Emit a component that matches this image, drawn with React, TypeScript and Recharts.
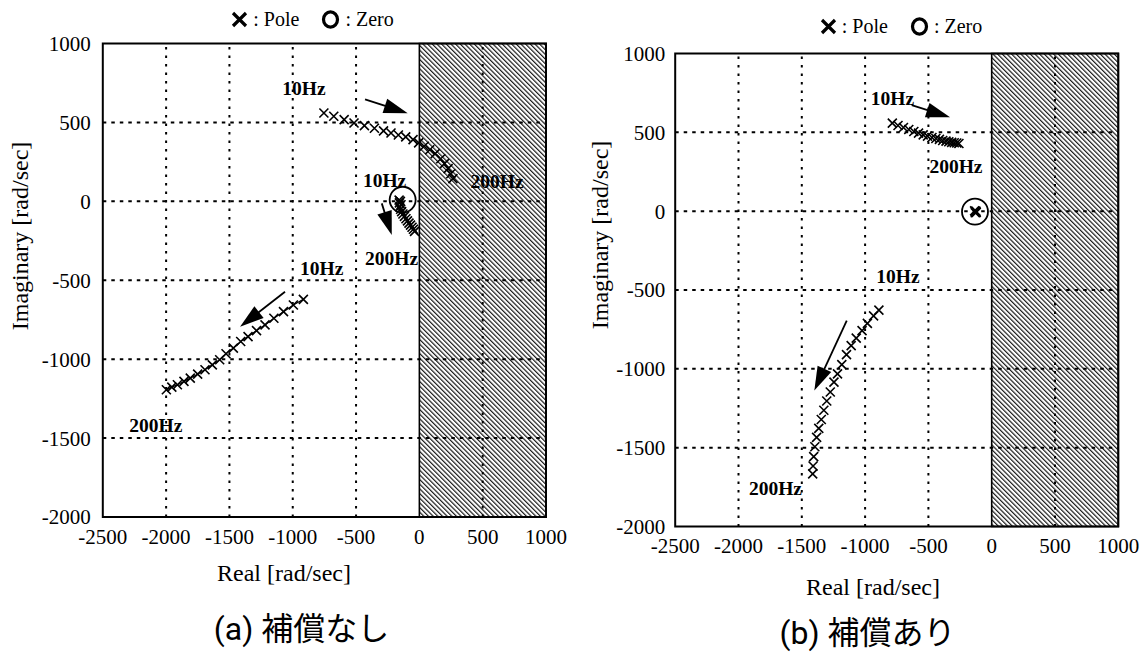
import React from 'react';
import {
  ScatterChart,
  Scatter,
  XAxis,
  YAxis,
  ReferenceArea,
  ReferenceLine,
  Legend,
  Label,
} from 'recharts';

// Axis ticks and grid positions (rad/sec)
const realTicks = [-2500, -2000, -1500, -1000, -500, 0, 500, 1000];
const imagTicks = [-2000, -1500, -1000, -500, 0, 500, 1000];
const realGrid = [-2000, -1500, -1000, -500, 500];
const imagGrid = [-1500, -1000, -500, 0, 500];

// (a) 補償なし — pole loci, 10 Hz -> 200 Hz
const polesUpperA = [
  { re: -754, im: 560 }, { re: -676, im: 539 }, { re: -594, im: 518 }, { re: -516, im: 496 },
  { re: -434, im: 480 }, { re: -355, im: 463 }, { re: -283, im: 446 }, { re: -224, im: 433 },
  { re: -166, im: 420 }, { re: -108, im: 408 }, { re: -50, im: 391 }, { re: -6, im: 370 },
  { re: 38, im: 349 }, { re: 82, im: 327 }, { re: 125, im: 302 }, { re: 169, im: 270 },
  { re: 198, im: 239 }, { re: 227, im: 207 }, { re: 248, im: 175 }, { re: 265, im: 144 },
];
const polesMidA = [
  { re: -160, im: 8 }, { re: -150, im: 0 }, { re: -158, im: -10 }, { re: -145, im: -22 },
  { re: -155, im: -35 }, { re: -148, im: -50 }, { re: -140, im: -65 }, { re: -130, im: -80 },
  { re: -118, im: -95 }, { re: -106, im: -110 }, { re: -94, im: -124 }, { re: -82, im: -138 },
  { re: -70, im: -151 }, { re: -58, im: -164 }, { re: -47, im: -177 }, { re: -38, im: -190 },
];
const polesLowerA = [
  { re: -916, im: -621 }, { re: -995, im: -657 }, { re: -1073, im: -699 }, { re: -1149, im: -741 },
  { re: -1219, im: -783 }, { re: -1286, im: -819 }, { re: -1353, im: -857 }, { re: -1411, im: -888 },
  { re: -1469, im: -930 }, { re: -1527, im: -966 }, { re: -1577, im: -1004 }, { re: -1635, im: -1036 },
  { re: -1693, im: -1067 }, { re: -1751, im: -1095 }, { re: -1809, im: -1120 }, { re: -1859, im: -1141 },
  { re: -1911, im: -1162 }, { re: -1955, im: -1177 }, { re: -1998, im: -1194 },
];
const zerosA = [{ re: -132, im: 10 }];
const freqLabelsA = [
  { re: -911, im: 712, text: '10Hz' },
  { re: 614, im: 125, text: '200Hz' },
  { re: -275, im: 135, text: '10Hz' },
  { re: -220, im: -361, text: '200Hz' },
  { re: -771, im: -425, text: '10Hz' },
  { re: -2081, im: -1418, text: '200Hz' },
];
const arrowsA = [
  [{ x: -429, y: 646 }, { x: -92, y: 558 }],
  [{ x: -297, y: -13 }, { x: -218, y: -214 }],
  [{ x: -1061, y: -573 }, { x: -1416, y: -795 }],
];

// (b) 補償あり — pole loci, 10 Hz -> 200 Hz
const polesUpperB = [
  { re: -785, im: 558 }, { re: -740, im: 543 }, { re: -697, im: 531 }, { re: -655, im: 518 },
  { re: -615, im: 505 }, { re: -578, im: 495 }, { re: -541, im: 484 }, { re: -507, im: 476 },
  { re: -472, im: 467 }, { re: -441, im: 461 }, { re: -413, im: 455 }, { re: -387, im: 448 },
  { re: -361, im: 444 }, { re: -339, im: 440 }, { re: -316, im: 436 }, { re: -296, im: 434 },
  { re: -276, im: 432 }, { re: -259, im: 429 },
];
const polesMidB = [
  { re: -135, im: 2 }, { re: -128, im: -4 }, { re: -122, im: -8 }, { re: -130, im: -10 }, { re: -125, im: 0 },
];
const polesLowerB = [
  { re: -891, im: -628 }, { re: -933, im: -664 }, { re: -982, im: -712 }, { re: -1024, im: -758 },
  { re: -1070, im: -805 }, { re: -1110, im: -853 }, { re: -1147, im: -910 }, { re: -1184, im: -973 },
  { re: -1218, im: -1032 }, { re: -1246, im: -1084 }, { re: -1275, im: -1147 }, { re: -1303, im: -1204 },
  { re: -1326, im: -1263 }, { re: -1346, im: -1321 }, { re: -1366, im: -1378 }, { re: -1383, im: -1435 },
  { re: -1397, im: -1494 }, { re: -1406, im: -1557 }, { re: -1411, im: -1616 }, { re: -1414, im: -1666 },
];
const zerosB = [{ re: -132, im: -3 }];
const freqLabelsB = [
  { re: -784, im: 716, text: '10Hz' },
  { re: -282, im: 282, text: '200Hz' },
  { re: -740, im: -415, text: '10Hz' },
  { re: -1708, im: -1757, text: '200Hz' },
];
const arrowsB = [
  [{ x: -632, y: 673 }, { x: -329, y: 595 }],
  [{ x: -1145, y: -694 }, { x: -1401, y: -1138 }],
];

const SERIF = '"Liberation Serif", "Times New Roman", serif';
const SANS = 'Roboto, "Noto Sans CJK JP", sans-serif';

const PoleMark = (props: any) => {
  const { cx, cy } = props;
  const s = 4.5;
  return (
    <path
      d={`M${cx - s},${cy - s}L${cx + s},${cy + s}M${cx - s},${cy + s}L${cx + s},${cy - s}`}
      stroke="#000"
      strokeWidth={1.6}
      fill="none"
    />
  );
};

const ZeroMark = (props: any) => (
  <circle cx={props.cx} cy={props.cy} r={13} stroke="#000" strokeWidth={1.8} fill="none" />
);

const FreqText = (props: any) => (
  <text
    x={props.cx}
    y={props.cy}
    textAnchor="middle"
    dominantBaseline="central"
    fontFamily={SERIF}
    fontWeight="bold"
    fontSize={19.5}
    fill="#000"
  >
    {props.payload.text}
  </text>
);

const ArrowShape = (props: any) => {
  const { x1, y1, x2, y2 } = props;
  const dx = x2 - x1;
  const dy = y2 - y1;
  const len = Math.hypot(dx, dy) || 1;
  const ux = dx / len;
  const uy = dy / len;
  const hl = 24;
  const hw = 7.5;
  const bx = x2 - ux * hl;
  const by = y2 - uy * hl;
  return (
    <g>
      <line x1={x1} y1={y1} x2={bx + ux * 2} y2={by + uy * 2} stroke="#000" strokeWidth={1.8} />
      <polygon
        points={`${x2},${y2} ${bx - uy * hw},${by + ux * hw} ${bx + uy * hw},${by - ux * hw}`}
        fill="#000"
      />
    </g>
  );
};

const PoleZeroLegend = () => (
  <div
    style={{
      display: 'flex',
      justifyContent: 'center',
      alignItems: 'center',
      fontFamily: SERIF,
      fontSize: 20,
      color: '#000',
      whiteSpace: 'pre',
    }}
  >
    <svg width={17} height={17} style={{ display: 'block' }}>
      <path d="M2,2L15,15M2,15L15,2" stroke="#000" strokeWidth={3.2} />
    </svg>
    <span> : Pole</span>
    <span style={{ display: 'inline-block', width: 22 }} />
    <svg width={19} height={19} style={{ display: 'block' }}>
      <ellipse cx={9.5} cy={9.5} rx={7} ry={7.6} stroke="#000" strokeWidth={3.2} fill="none" />
    </svg>
    <span> : Zero</span>
  </div>
);

type Pt = { re: number; im: number };
type PanelProps = {
  id: string;
  plotLeft: number;
  plotRight: number;
  plotTop: number;
  plotBottom: number;
  tickGapY: number;
  tickGapX: number;
  xTitle: [number, number];
  yTitle: [number, number];
  legendShift: number;
  legendTop: number;
  upper: Pt[];
  mid: Pt[];
  lower: Pt[];
  zeros: Pt[];
  labels: (Pt & { text: string })[];
  arrows: { x: number; y: number }[][];
  lowerJoined: boolean;
};

const PANEL_W = 574;
const PANEL_H = 655;
const X_AXIS_H = 60;

const Panel = (p: PanelProps) => {
  const hatchId = `hatch-${p.id}`;
  return (
    <ScatterChart
      width={PANEL_W}
      height={PANEL_H}
      margin={{
        top: p.plotTop,
        right: PANEL_W - p.plotRight,
        bottom: PANEL_H - p.plotBottom - X_AXIS_H,
        left: 0,
      }}
    >
      <defs>
        <pattern
          id={hatchId}
          patternUnits="userSpaceOnUse"
          width={3.3}
          height={3.3}
          patternTransform="rotate(-45)"
        >
          <rect width={3.3} height={3.3} fill="#fff" />
          <line x1={0.6} y1={0} x2={0.6} y2={3.3} stroke="#1a1a1a" strokeWidth={1.2} />
        </pattern>
      </defs>
      <XAxis
        type="number"
        dataKey="re"
        domain={[-2500, 1000]}
        ticks={realTicks}
        allowDataOverflow
        height={X_AXIS_H}
        axisLine={false}
        tickLine={false}
        tickSize={0}
        tickMargin={p.tickGapX}
        tick={{ fontFamily: SERIF, fontSize: 21, fill: '#000' }}
      >
        <Label
          content={() => (
            <text
              x={p.xTitle[0]}
              y={p.xTitle[1]}
              textAnchor="middle"
              dominantBaseline="central"
              fontFamily={SERIF}
              fontSize={24}
              fill="#000"
            >
              Real [rad/sec]
            </text>
          )}
        />
      </XAxis>
      <YAxis
        type="number"
        dataKey="im"
        domain={[-2000, 1000]}
        ticks={imagTicks}
        allowDataOverflow
        width={p.plotLeft}
        axisLine={false}
        tickLine={false}
        tickSize={0}
        tickMargin={p.tickGapY}
        tick={{ fontFamily: SERIF, fontSize: 21, fill: '#000' }}
      >
        <Label
          content={() => (
            <text
              x={p.yTitle[0]}
              y={p.yTitle[1]}
              transform={`rotate(-90, ${p.yTitle[0]}, ${p.yTitle[1]})`}
              textAnchor="middle"
              dominantBaseline="central"
              fontFamily={SERIF}
              fontSize={24}
              fill="#000"
            >
              Imaginary [rad/sec]
            </text>
          )}
        />
      </YAxis>
      <Legend
        layout="horizontal"
        verticalAlign="middle"
        align="center"
        wrapperStyle={{ top: p.legendTop, left: p.legendShift, width: PANEL_W }}
        content={() => <PoleZeroLegend />}
      />

      {/* unstable half plane */}
      <ReferenceArea
        x1={0}
        x2={1000}
        y1={-2000}
        y2={1000}
        fill={`url(#${hatchId})`}
        fillOpacity={1}
        stroke="#000"
        strokeWidth={1.6}
        ifOverflow="visible"
      />

      {realGrid.map((v) => (
        <ReferenceLine key={`gx${v}`} x={v} stroke="#000" strokeWidth={2} strokeDasharray="2.5 6" />
      ))}
      {imagGrid.map((v) => (
        <ReferenceLine key={`gy${v}`} y={v} stroke="#000" strokeWidth={2} strokeDasharray="3.5 5" />
      ))}

      {/* plot frame */}
      <ReferenceArea
        x1={-2500}
        x2={1000}
        y1={-2000}
        y2={1000}
        fill="none"
        stroke="#000"
        strokeWidth={2}
        ifOverflow="visible"
      />

      {p.arrows.map((seg, i) => (
        <ReferenceLine key={`ar${i}`} segment={seg} shape={ArrowShape} ifOverflow="visible" />
      ))}

      <Scatter data={p.upper} shape={PoleMark} isAnimationActive={false} />
      <Scatter data={p.mid} shape={PoleMark} isAnimationActive={false} />
      <Scatter
        data={p.lower}
        shape={PoleMark}
        line={p.lowerJoined ? { stroke: '#000', strokeWidth: 1.2 } : false}
        isAnimationActive={false}
      />
      <Scatter data={p.zeros} shape={ZeroMark} isAnimationActive={false} />
      <Scatter data={p.labels} shape={FreqText} isAnimationActive={false} />
    </ScatterChart>
  );
};

const titleStyle: React.CSSProperties = {
  position: 'absolute',
  width: 400,
  textAlign: 'center',
  fontFamily: SANS,
  fontSize: 32,
  lineHeight: '32px',
  color: '#000',
  whiteSpace: 'nowrap',
};

export default function App() {
  return (
    <div
      style={{
        position: 'absolute',
        left: 0,
        top: 0,
        width: 1148,
        height: 655,
        background: '#fff',
        overflow: 'hidden',
      }}
    >
      <div style={{ position: 'absolute', left: 0, top: 0 }}>
        <Panel
          id="a"
          plotLeft={102.8}
          plotRight={546}
          plotTop={43.5}
          plotBottom={517}
          tickGapY={12}
          tickGapX={12}
          xTitle={[284, 573]}
          yTitle={[20, 236]}
          legendShift={25.5}
          legendTop={8}
          upper={polesUpperA}
          mid={polesMidA}
          lower={polesLowerA}
          zeros={zerosA}
          labels={freqLabelsA}
          arrows={arrowsA}
          lowerJoined
        />
      </div>
      <div style={{ position: 'absolute', left: 574, top: 0 }}>
        <Panel
          id="b"
          plotLeft={101.2}
          plotRight={544.3}
          plotTop={53.5}
          plotBottom={526.5}
          tickGapY={10}
          tickGapX={11.5}
          xTitle={[299, 587]}
          yTitle={[26, 235]}
          legendShift={40}
          legendTop={15}
          upper={polesUpperB}
          mid={polesMidB}
          lower={polesLowerB}
          zeros={zerosB}
          labels={freqLabelsB}
          arrows={arrowsB}
          lowerJoined={false}
        />
      </div>
      <div style={{ ...titleStyle, left: 301.5 - 200, top: 629 - 16 }}>(a) 補償なし</div>
      <div style={{ ...titleStyle, left: 867.6 - 200, top: 633 - 16 }}>(b) 補償あり</div>
    </div>
  );
}
